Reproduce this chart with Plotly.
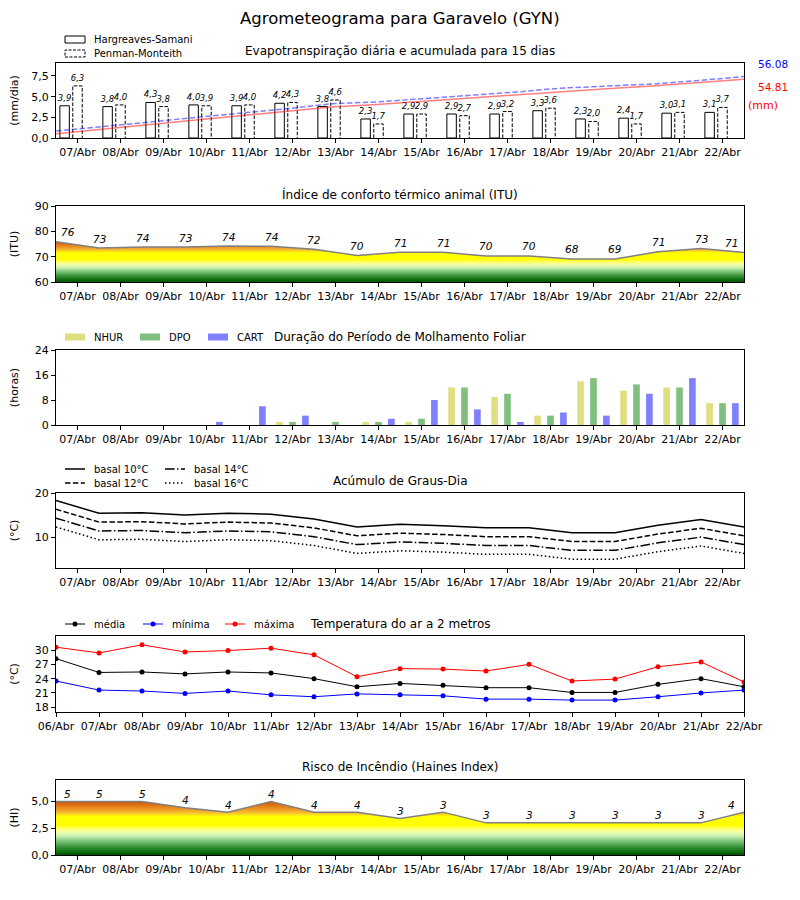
import numpy as np
import plotly.graph_objects as go

PAGE_OFF = 8            # browser body margin
W, H = 800 - PAGE_OFF, 900 - PAGE_OFF
FONT = "DejaVu Sans"

# ---------------- data ----------------
dias_meio = ["07/Abr", "08/Abr", "09/Abr", "10/Abr", "11/Abr", "12/Abr", "13/Abr", "14/Abr",
             "15/Abr", "16/Abr", "17/Abr", "18/Abr", "19/Abr", "20/Abr", "21/Abr", "22/Abr"]
dias_borda = ["06/Abr"] + dias_meio

et_hs = [3.9, 3.8, 4.3, 4.0, 3.9, 4.2, 3.8, 2.3, 2.9, 2.9, 2.9, 3.3, 2.3, 2.4, 3.0, 3.1]
et_pm = [6.3, 4.0, 3.8, 3.9, 4.0, 4.3, 4.6, 1.7, 2.9, 2.7, 3.2, 3.6, 2.0, 1.7, 3.1, 3.7]
acum_hs_txt = "54.81"
acum_pm_txt = "56.08"

itu_linha = [75.9, 73.4, 73.8, 73.8, 74.2, 74.1, 72.9, 70.5, 71.7, 71.7, 70.3, 70.3, 69.1, 69.1, 71.9, 73.2, 71.6]
itu_rotulo = [76, 73, 74, 73, 74, 74, 72, 70, 71, 71, 70, 70, 68, 69, 71, 73, 71]

nhur = [0, 0, 0, 0, 0, 1, 0, 1, 1, 12, 9, 3, 14, 11, 12, 7]
dpo = [0, 0, 0, 0, 0, 1, 1, 1, 2, 12, 10, 3, 15, 13, 12, 7]
cart = [0, 0, 0, 1, 6, 3, 0, 2, 8, 5, 1, 4, 3, 10, 15, 7]

gd10 = [18.3, 15.4, 15.5, 15.0, 15.4, 15.2, 14.1, 12.3, 12.9, 12.6, 12.1, 12.1, 11.0, 11.0, 12.7, 14.0, 12.3]
gd12 = [16.3, 13.4, 13.5, 13.0, 13.4, 13.2, 12.1, 10.3, 10.9, 10.6, 10.1, 10.1, 9.0, 9.0, 10.7, 12.0, 10.3]
gd14 = [14.3, 11.4, 11.5, 11.0, 11.4, 11.2, 10.1, 8.3, 8.9, 8.6, 8.1, 8.1, 7.0, 7.0, 8.7, 10.0, 8.3]
gd16 = [12.3, 9.4, 9.5, 9.0, 9.4, 9.2, 8.1, 6.3, 6.9, 6.6, 6.1, 6.1, 5.0, 5.0, 6.7, 8.0, 6.3]

t_max = [30.6, 29.4, 31.1, 29.6, 29.9, 30.4, 29.0, 24.4, 26.1, 26.0, 25.6, 27.0, 23.5, 23.9, 26.5, 27.5, 23.3]
t_med = [28.2, 25.3, 25.4, 25.0, 25.4, 25.2, 24.0, 22.3, 23.0, 22.6, 22.1, 22.1, 21.1, 21.1, 22.8, 24.0, 22.3]
t_min = [23.5, 21.6, 21.4, 20.9, 21.4, 20.6, 20.2, 20.8, 20.6, 20.4, 19.7, 19.7, 19.5, 19.5, 20.2, 21.0, 21.6]

haines_linha = [5.0, 5.0, 5.0, 4.4, 4.0, 5.0, 4.0, 4.0, 3.4, 4.0, 3.0, 3.0, 3.0, 3.0, 3.0, 3.0, 4.0]
haines_rotulo = [5, 5, 5, 4, 4, 4, 4, 4, 3, 3, 3, 3, 3, 3, 3, 3, 4]

# ---------------- helpers (page pixels -> paper) ----------------
def px(x):
    return (x - PAGE_OFF) / W

def py(y):
    return 1 - (y - PAGE_OFF) / H

escala = [
    [0.00, "#005000"], [0.06, "#107010"], [0.15, "#3c963c"], [0.25, "#80c880"],
    [0.33, "#c8f0b0"], [0.40, "#f0ffb0"], [0.47, "#ffff60"], [0.52, "#ffff00"],
    [0.68, "#ffff00"], [0.74, "#f8c030"], [0.82, "#eb9020"], [0.90, "#d86810"],
    [1.00, "#c04000"],
]

n = len(dias_meio)
x_meio = np.arange(n) + 0.5
x_borda = np.arange(len(dias_borda))

fig = go.Figure()

# ---------- Panel 1: evapotranspiration ----------
fig.add_trace(go.Bar(
    x=x_meio, y=et_hs, offset=-0.41, width=0.22,
    marker=dict(color="white", line=dict(color="black", width=1)),
    texttemplate="%{y:.1f}", textposition="outside", constraintext="none", cliponaxis=False,
    textfont=dict(family=FONT, size=8.5, style="italic", color="black"),
    xaxis="x", yaxis="y", showlegend=False, hoverinfo="skip"))
fig.add_trace(go.Bar(
    x=x_meio, y=et_pm, offset=-0.11, width=0.22,
    marker=dict(color="white", line=dict(color="white", width=0)),
    texttemplate="%{y:.1f}", textposition="outside", constraintext="none", cliponaxis=False,
    textfont=dict(family=FONT, size=8.5, style="italic", color="black"),
    xaxis="x", yaxis="y", showlegend=False, hoverinfo="skip"))
ox, oy = [], []
for xc, v in zip(x_meio, et_pm):
    ox += [xc - 0.11, xc - 0.11, xc + 0.11, xc + 0.11, None]
    oy += [0, v, v, 0, None]
fig.add_trace(go.Scatter(x=ox, y=oy, mode="lines",
                         line=dict(color="black", width=1, dash="3.7px,1.6px"),
                         xaxis="x", yaxis="y", showlegend=False, hoverinfo="skip"))
x_acum = np.linspace(0, n, n)
fig.add_trace(go.Scatter(x=x_acum, y=np.cumsum(et_hs), mode="lines",
                         line=dict(color="rgba(255,0,0,0.5)", width=1.5),
                         xaxis="x", yaxis="y7", showlegend=False, hoverinfo="skip"))
fig.add_trace(go.Scatter(x=x_acum, y=np.cumsum(et_pm), mode="lines",
                         line=dict(color="rgba(0,0,255,0.5)", width=1.5, dash="5.5px,2.4px"),
                         xaxis="x", yaxis="y7", showlegend=False, hoverinfo="skip"))

# ---------- Panel 2: ITU ----------
fig.add_trace(go.Scatter(x=x_borda, y=itu_linha, mode="lines",
                         line=dict(color="#808080", width=1.5), fill="tozeroy",
                         fillgradient=dict(type="vertical", colorscale=escala, start=60, stop=77),
                         xaxis="x2", yaxis="y2", showlegend=False, hoverinfo="skip"))
last = len(itu_linha) - 1
for i, (v, lab) in enumerate(zip(itu_linha, itu_rotulo)):
    xa, xs = "center", 0
    if i == 0:
        xa, xs = "left", 3
    elif i == last:
        xa, xs = "right", -4
    fig.add_annotation(x=x_borda[i], y=v, xref="x2", yref="y2", text=str(lab), showarrow=False,
                       xanchor=xa, yanchor="middle", xshift=xs, yshift=9.5,
                       font=dict(family=FONT, size=10.5, style="italic", color="black"))

# ---------- Panel 3: leaf wetness ----------
for vals, cor, off in [(nhur, "#dfdf80", -0.3775), (dpo, "#80bf80", -0.0775), (cart, "#8080ff", 0.2225)]:
    fig.add_trace(go.Bar(x=x_meio, y=vals, offset=off, width=0.155,
                         marker=dict(color=cor, line=dict(width=0)),
                         xaxis="x3", yaxis="y3", showlegend=False, hoverinfo="skip"))

# ---------- Panel 4: degree days ----------
for vals, dash in [(gd10, "solid"), (gd12, "5.5px,2.4px"), (gd14, "9.6px,2.4px,1.5px,2.4px"), (gd16, "1.5px,2.5px")]:
    fig.add_trace(go.Scatter(x=x_borda, y=vals, mode="lines",
                             line=dict(color="black", width=1.5, dash=dash),
                             xaxis="x4", yaxis="y4", showlegend=False, hoverinfo="skip"))

# ---------- Panel 5: temperature ----------
for vals, cor in [(t_max, "#ff0000"), (t_med, "#000000"), (t_min, "#0000ff")]:
    fig.add_trace(go.Scatter(x=x_borda, y=vals, mode="lines+markers",
                             line=dict(color=cor, width=1), marker=dict(color=cor, size=5),
                             xaxis="x5", yaxis="y5", showlegend=False, hoverinfo="skip"))

# ---------- Panel 6: Haines ----------
fig.add_trace(go.Scatter(x=x_borda, y=haines_linha, mode="lines",
                         line=dict(color="#808080", width=1.5), fill="tozeroy",
                         fillgradient=dict(type="vertical", colorscale=escala, start=0, stop=5.3),
                         xaxis="x6", yaxis="y6", showlegend=False, hoverinfo="skip"))
last = len(haines_linha) - 1
for i, (v, lab) in enumerate(zip(haines_linha, haines_rotulo)):
    xa, xs = "center", 0
    if i == 0:
        xa, xs = "left", 6
    elif i == last:
        xa, xs = "right", -7
    fig.add_annotation(x=x_borda[i], y=v, xref="x6", yref="y6", text=str(lab), showarrow=False,
                       xanchor=xa, yanchor="middle", xshift=xs, yshift=7.5,
                       font=dict(family=FONT, size=10.5, style="italic", color="black"))

# ---------------- axes ----------------
frames = {  # (top px, bottom px) on the page
    1: (63, 138), 2: (206, 282), 3: (350, 425), 4: (493, 568), 5: (636, 712), 6: (780, 855)}
yinfo = {
    1: dict(range=[0, 9.07], tickvals=[0, 2.5, 5, 7.5], tickformat=".1f", title="(mm/dia)"),
    2: dict(range=[60, 90], tickvals=[60, 70, 80, 90], title="(ITU)"),
    3: dict(range=[0, 24], tickvals=[0, 8, 16, 24], title="(horas)"),
    4: dict(range=[3, 20], tickvals=[10, 20], title="(°C)"),
    5: dict(range=[17, 32.95], tickvals=[18, 21, 24, 27, 30], title="(°C)"),
    6: dict(range=[0, 7], tickvals=[0, 2.5, 5], tickformat=".1f", title="(HI)"),
}
common = dict(showline=True, mirror=True, linecolor="black", linewidth=1, ticks="outside",
              ticklen=4, tickwidth=1, tickcolor="black", showgrid=False, zeroline=False,
              automargin=False, tickfont=dict(family=FONT, size=11, color="black"))
lay = {}
for k in range(1, 7):
    top, bot = frames[k]
    xs = "" if k == 1 else str(k)
    if k == 5:
        tv, tt = list(x_borda), dias_borda
    else:
        tv, tt = list(x_meio), dias_meio
    lay["xaxis" + xs] = dict(domain=[px(56), px(744)], range=[0, 16], anchor="y" + xs,
                             tickvals=tv, ticktext=tt, **common)
    yi = yinfo[k]
    yd = dict(domain=[py(bot), py(top)], range=yi["range"], anchor="x" + xs,
              tickvals=yi["tickvals"],
              title=dict(text=yi["title"], font=dict(family=FONT, size=11, color="black")),
              **common)
    if "tickformat" in yi:
        yd["tickformat"] = yi["tickformat"]
    lay["yaxis" + xs] = yd
lay["yaxis7"] = dict(overlaying="y", anchor="x", range=[0, 67.7], visible=False, side="right",
                     automargin=False)

fig.update_layout(**lay)

# ---------------- titles and texts ----------------
def texto(x, y, s, size=12, xa="center", color="black", **kw):
    fig.add_annotation(x=px(x), y=py(y), xref="paper", yref="paper", text=s, showarrow=False,
                       xanchor=xa, yanchor="middle", font=dict(family=FONT, size=size, color=color, **kw))

texto(400, 18, "Agrometeograma para Garavelo (GYN)", size=16.5)
titulos = [(51, "Evapotranspiração diária e acumulada para 15 dias"),
           (194, "Índice de conforto térmico animal (ITU)"),
           (337, "Duração do Período de Molhamento Foliar"),
           (481, "Acúmulo de Graus-Dia"),
           (624, "Temperatura do ar a 2 metros"),
           (767, "Risco de Incêndio (Haines Index)")]
for yy, s in titulos:
    texto(400, yy, s, size=12)

texto(756, 64, acum_pm_txt, size=10.5, xa="left", color="#0000ff")
texto(756, 87, acum_hs_txt, size=10.5, xa="left", color="#ff0000")
texto(746, 105, "(mm)", size=11, xa="left", color="#ff0000")

# ---------------- manual legends ----------------
shapes = []
def rect(x0, yc, color, line_color=None, dash="solid", w=20, h=7):
    shapes.append(dict(type="rect", xref="paper", yref="paper", x0=px(x0), x1=px(x0 + w),
                       y0=py(yc + h / 2), y1=py(yc - h / 2), fillcolor=color,
                       line=dict(color=line_color or color, width=1 if line_color else 0, dash=dash)))

def linha(x0, yc, color, dash="solid", width=1.5, w=20):
    shapes.append(dict(type="line", xref="paper", yref="paper", x0=px(x0), x1=px(x0 + w),
                       y0=py(yc), y1=py(yc), line=dict(color=color, width=width, dash=dash)))

def ponto(xc, yc, color, r=2.5):
    shapes.append(dict(type="circle", xref="paper", yref="paper", x0=px(xc - r), x1=px(xc + r),
                       y0=py(yc + r), y1=py(yc - r), fillcolor=color, line=dict(color=color, width=0)))

# panel 1 legend
rect(65, 39.5, "white", "black")
texto(92, 39.5, "Hargreaves-Samani", size=10, xa="left")
rect(65, 53.5, "white", "black", dash="3px,1.5px")
texto(92, 53.5, "Penman-Monteith", size=10, xa="left")

# panel 3 legend
for x0, cor, s in [(65, "#dfdf80", "NHUR"), (140, "#80bf80", "DPO"), (208, "#8080ff", "CART")]:
    rect(x0, 337, cor)
    texto(x0 + 27, 337, s, size=10, xa="left")

# panel 4 legend
for x0, yc, dash, s in [(65, 469, "solid", "basal 10°C"), (65, 483, "5.5px,2.4px", "basal 12°C"),
                        (165, 469, "9.6px,2.4px,1.5px,2.4px", "basal 14°C"),
                        (165, 483, "1.5px,2.5px", "basal 16°C")]:
    linha(x0, yc, "black", dash=dash)
    texto(x0 + 27, yc, s, size=10, xa="left")

# panel 5 legend
for x0, cor, s in [(65, "#000000", "média"), (143, "#0000ff", "mínima"), (225, "#ff0000", "máxima")]:
    linha(x0, 624, cor, width=1)
    ponto(x0 + 10, 624, cor)
    texto(x0 + 27, 624, s, size=10, xa="left")

fig.update_layout(
    width=W, height=H, margin=dict(l=0, r=0, t=0, b=0, autoexpand=False),
    paper_bgcolor="white", plot_bgcolor="white",
    separators=",.", barmode="overlay", showlegend=False,
    font=dict(family=FONT, size=11, color="black"),
    shapes=shapes,
)

fig.write_html("out.html")
